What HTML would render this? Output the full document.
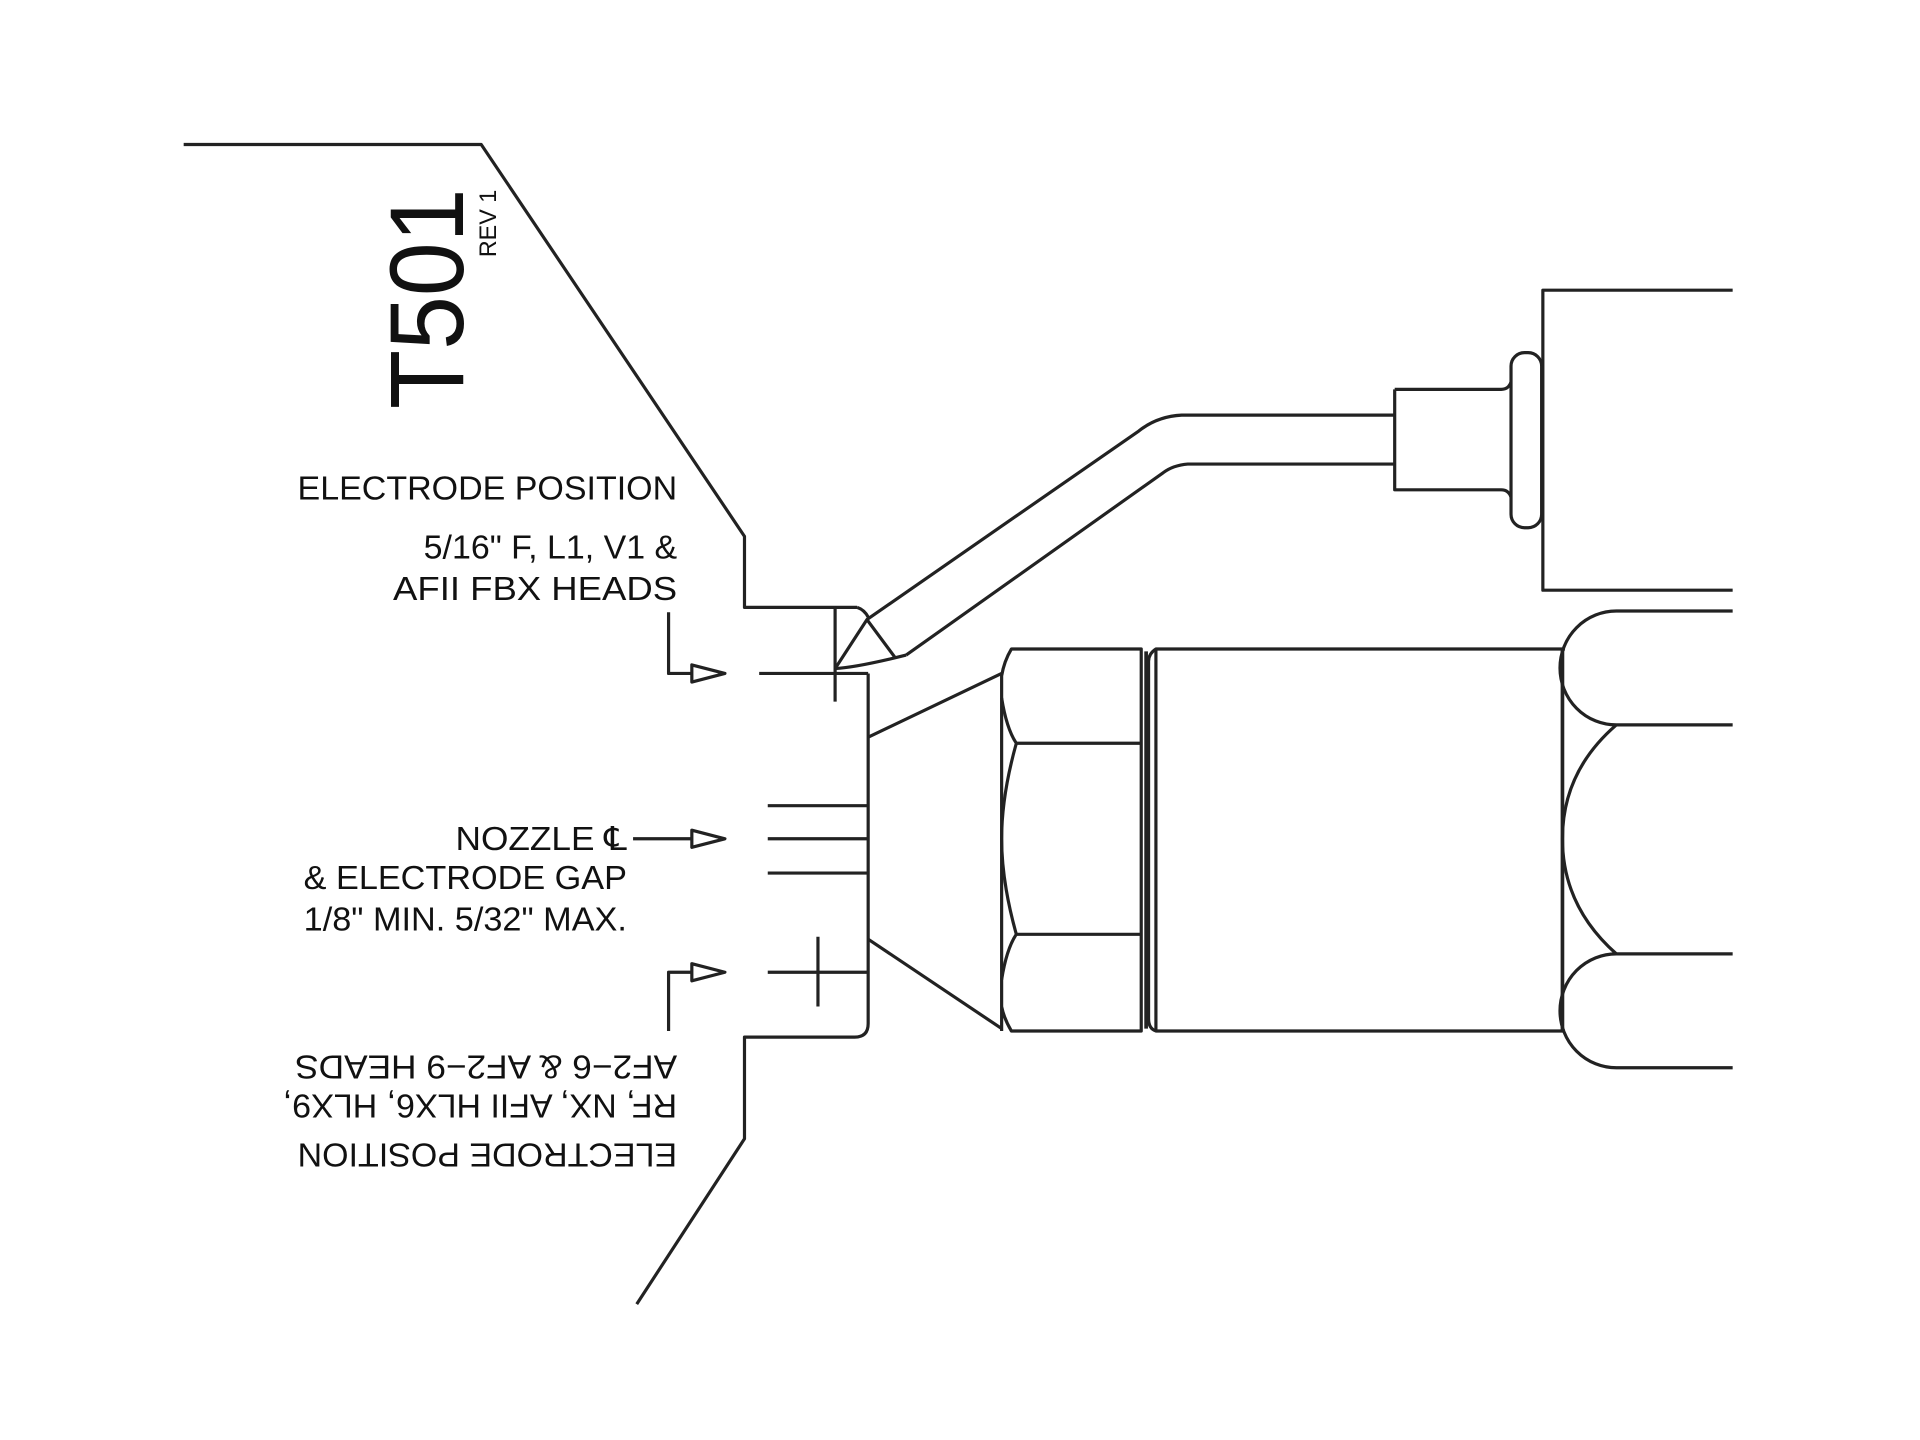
<!DOCTYPE html>
<html><head><meta charset="utf-8"><style>
html,body{margin:0;padding:0;background:#fff;}
svg{display:block;}
text{font-family:"Liberation Sans",Arial,sans-serif;fill:#111;}
</style></head><body>
<svg width="1920" height="1440" viewBox="0 0 1568 1176" xmlns="http://www.w3.org/2000/svg">
<g fill="none" stroke="#222" stroke-width="2.6" stroke-linejoin="round">
<!-- housing outline -->
<polyline points="150,118 393,118 608,438 608,496 700,496"/>
<path d="M700,496 Q706,498 709,504"/>
<path d="M709,550 L709,836 Q709,847 698,847 L608,847 L608,930 L520,1065"/>
<!-- electrode tip -->
<line x1="682" y1="496" x2="682" y2="573"/>
<line x1="620" y1="550" x2="709" y2="550"/>
<path d="M682,546 L708,506 L731,537"/>
<path d="M682,546 Q700,545 740,535"/>
<path d="M708,506 L930,352 Q945,340 965,339 L1139,339"/>
<path d="M740,535 L950,386 Q958,380 970,379 L1139,379"/>
<!-- connector -->
<path d="M1139,318 L1226,318 Q1232,318 1234,312 M1139,318 L1139,400 L1226,400 Q1232,400 1234,406"/>
<rect x="1234" y="288" width="25" height="143" rx="11"/>
<polyline points="1415,237 1260,237 1260,482 1415,482"/>
<!-- nozzle cone -->
<line x1="709" y1="602" x2="818" y2="550"/>
<line x1="709" y1="767" x2="818" y2="840"/>
<!-- hex nut -->
<path d="M818,842 L818,552 Q820,540 826,530 L932,530 L932,842 L826,842 Q820,832 818,822"/>
<line x1="830" y1="607" x2="932" y2="607"/>
<line x1="830" y1="763" x2="932" y2="763"/>
<path d="M818,570 Q822,595 830,607 Q818,650 818,685 Q818,720 830,763 Q822,775 818,800"/>
<line x1="936" y1="532" x2="936" y2="840" stroke-width="3"/>
<!-- body -->
<path d="M1278,530 L944,530 Q938,534 938,540 L938,832 Q938,840 944,842 L1278,842"/>
<line x1="944" y1="530" x2="944" y2="842"/>
<line x1="1276" y1="530" x2="1276" y2="842" stroke-width="3"/>
<!-- right hex -->
<path d="M1415,499 L1320,499 A46,46.5 0 0 0 1320,592 L1415,592"/>
<path d="M1320,592 Q1276,630 1276,685 Q1276,740 1320,779"/>
<path d="M1415,779 L1320,779 A46,46.5 0 0 0 1320,872 L1415,872"/>
<!-- nozzle lines -->
<line x1="627" y1="658" x2="709" y2="658"/>
<line x1="627" y1="685" x2="709" y2="685"/>
<line x1="627" y1="713" x2="709" y2="713"/>
<line x1="627" y1="794" x2="709" y2="794"/>
<line x1="668" y1="765" x2="668" y2="822"/>
<!-- arrows -->
<polyline points="546,500 546,550 565,550"/>
<polygon points="565,543 592,550 565,557"/>
<line x1="517" y1="685" x2="565" y2="685"/>
<polygon points="565,678 592,685 565,692"/>
<polyline points="546,842 546,794 565,794"/>
<polygon points="565,787 592,794 565,801"/>
</g>
<text x="378" y="334" font-size="86" transform="rotate(-90 378 334)" textLength="180" lengthAdjust="spacingAndGlyphs">T501</text>
<text x="405" y="210" font-size="20" transform="rotate(-90 405 210)" textLength="55" lengthAdjust="spacingAndGlyphs">REV 1</text>
<g font-size="27" text-anchor="end">
<text x="553" y="408" textLength="310" lengthAdjust="spacingAndGlyphs">ELECTRODE POSITION</text>
<text x="553" y="456" textLength="207" lengthAdjust="spacingAndGlyphs">5/16" F, L1, V1 &amp;</text>
<text x="553" y="490" textLength="232" lengthAdjust="spacingAndGlyphs">AFII  FBX  HEADS</text>
<text x="512" y="694" textLength="140" lengthAdjust="spacingAndGlyphs">NOZZLE ℄</text>
<text x="512" y="726" textLength="264" lengthAdjust="spacingAndGlyphs">&amp; ELECTRODE GAP</text>
<text x="512" y="760" textLength="264" lengthAdjust="spacingAndGlyphs">1/8" MIN. 5/32" MAX.</text>
</g>
<g font-size="27">
<text x="553" y="862" transform="rotate(180 553 862)" textLength="312" lengthAdjust="spacingAndGlyphs">AF2−6 &amp; AF2−9 HEADS</text>
<text x="553" y="894" transform="rotate(180 553 894)" textLength="322" lengthAdjust="spacingAndGlyphs">RF, NX, AFII HLX6, HLX9,</text>
<text x="553" y="934" transform="rotate(180 553 934)" textLength="310" lengthAdjust="spacingAndGlyphs">ELECTRODE POSITION</text>
</g>
</svg>
</body></html>
